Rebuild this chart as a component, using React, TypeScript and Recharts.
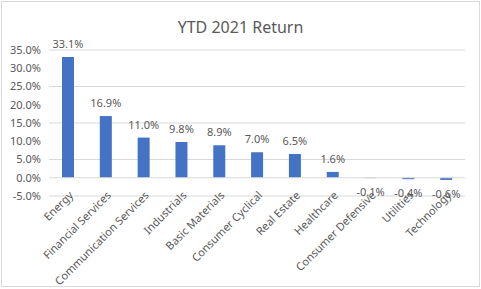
import React from 'react';
import {
  BarChart,
  Bar,
  XAxis,
  YAxis,
  CartesianGrid,
  LabelList,
  ReferenceLine,
} from 'recharts';

const sectors = [
  'Energy',
  'Financial Services',
  'Communication Services',
  'Industrials',
  'Basic Materials',
  'Consumer Cyclical',
  'Real Estate',
  'Healthcare',
  'Consumer Defensive',
  'Utilities',
  'Technology',
];
const ytdReturn = [33.1, 16.9, 11.0, 9.8, 8.9, 7.0, 6.5, 1.6, -0.1, -0.4, -0.6];
const yTicks = [-5, 0, 5, 10, 15, 20, 25, 30, 35];

const data = sectors.map((name, i) => ({ name, value: ytdReturn[i] }));

const FONT = '"Noto Sans", "Open Sans", sans-serif';
const GREY = '#595959';

const pct = (v: number) => `${v.toFixed(1)}%`;

function SectorTick(props: any) {
  const { x, y, payload } = props;
  const ax = x + 6;
  const ay = y - 8;
  return (
    <text
      x={ax}
      y={ay}
      transform={`rotate(-45, ${ax}, ${ay})`}
      textAnchor="end"
      fontSize={11}
      fontFamily={FONT}
      fill={GREY}
    >
      {payload.value}
    </text>
  );
}

function ValueLabel(props: any) {
  const { x, y, width, height, value } = props;
  const top = Math.min(y, y + height);
  const bottom = Math.max(y, y + height);
  const ty = value >= 0 ? top - 9 : bottom + 18;
  return (
    <text
      x={x + width / 2}
      y={ty}
      textAnchor="middle"
      fontSize={11}
      fontFamily={FONT}
      fill={GREY}
    >
      {pct(value)}
    </text>
  );
}

export default function App() {
  return (
    <div style={{ position: 'absolute', left: 0, top: 0, width: 481, height: 289, background: '#fff' }}>
      <div
        style={{
          position: 'absolute',
          left: 1,
          top: 1,
          width: 477,
          height: 284,
          border: '1px solid #d9d9d9',
        }}
      />
      <div
        style={{
          position: 'absolute',
          left: 0,
          top: 16,
          width: 481,
          textAlign: 'center',
          fontFamily: FONT,
          fontSize: 16,
          color: GREY,
        }}
      >
        YTD 2021 Return
      </div>
      <div style={{ position: 'absolute', left: 0, top: 0 }}>
        <BarChart
          width={481}
          height={289}
          data={data}
          margin={{ top: 50, right: 16, left: 8, bottom: 8 }}
        >
          <CartesianGrid vertical={false} stroke="#d9d9d9" />
          <XAxis
            dataKey="name"
            interval={0}
            axisLine={false}
            tickLine={false}
            height={85}
            tick={<SectorTick />}
          />
          <YAxis
            width={41}
            domain={[-5, 35]}
            ticks={yTicks}
            tickFormatter={pct}
            axisLine={false}
            tickLine={false}
            tick={{ fontSize: 11, fontFamily: FONT, fill: GREY }}
          />
          <ReferenceLine y={0} stroke="#d9d9d9" />
          <Bar dataKey="value" fill="#4472C4" barSize={12} isAnimationActive={false}>
            <LabelList dataKey="value" content={<ValueLabel />} />
          </Bar>
        </BarChart>
      </div>
    </div>
  );
}
